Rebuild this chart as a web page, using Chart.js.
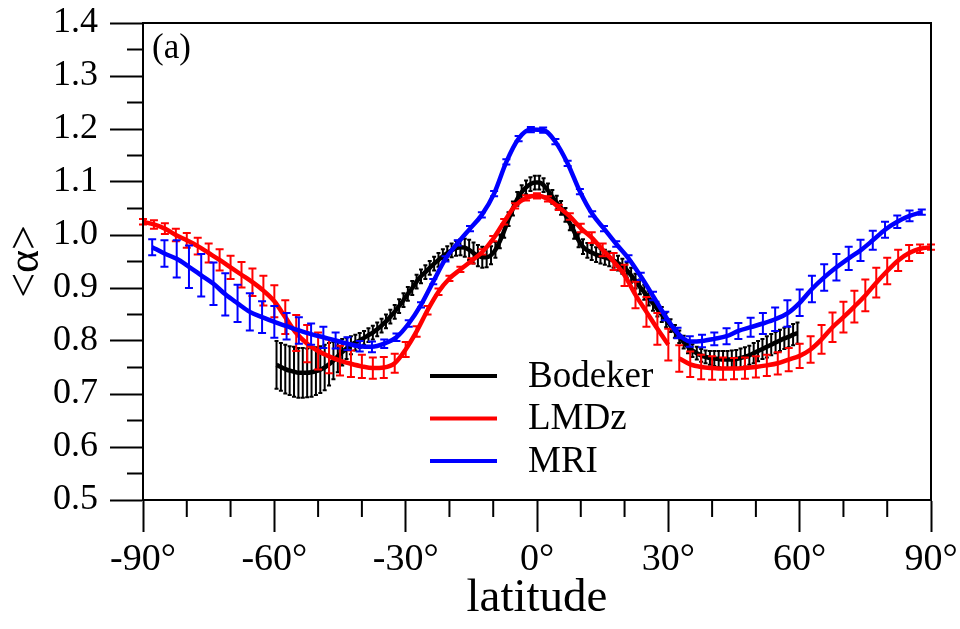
<!DOCTYPE html>
<html>
<head>
<meta charset="utf-8">
<script src="https://cdn.jsdelivr.net/npm/chart.js@4.4.0/dist/chart.umd.min.js"></script>
<style>
  html, body { margin: 0; padding: 0; background: #fff; }
  canvas { display: block; }
</style>
</head>
<body>
<canvas id="chart" width="960" height="629"></canvas>
<script>
// zonal mean <alpha> vs latitude, panel (a)
const SERIF = "'Liberation Serif', 'DejaVu Serif', serif";

const xMajorTicks = [-90, -60, -30, 0, 30, 60, 90];
const xMinorTicks = [-80, -70, -50, -40, -20, -10, 10, 20, 40, 50, 70, 80];
const yMinorTicks = [0.55, 0.65, 0.75, 0.85, 0.95, 1.05, 1.15, 1.25, 1.35];

// Bodeker (1 deg, -60..60)
const bodekerLat = [
  -59.5, -58.5, -57.5, -56.5, -55.5, -54.5, -53.5, -52.5, -51.5, -50.5, -49.5, -48.5, -47.5, -46.5, -45.5, -44.5, -43.5, -42.5, -41.5, -40.5,
  -39.5, -38.5, -37.5, -36.5, -35.5, -34.5, -33.5, -32.5, -31.5, -30.5, -29.5, -28.5, -27.5, -26.5, -25.5, -24.5, -23.5, -22.5, -21.5, -20.5,
  -19.5, -18.5, -17.5, -16.5, -15.5, -14.5, -13.5, -12.5, -11.5, -10.5, -9.5, -8.5, -7.5, -6.5, -5.5, -4.5, -3.5, -2.5, -1.5, -0.5,
  0.5, 1.5, 2.5, 3.5, 4.5, 5.5, 6.5, 7.5, 8.5, 9.5, 10.5, 11.5, 12.5, 13.5, 14.5, 15.5, 16.5, 17.5, 18.5, 19.5,
  20.5, 21.5, 22.5, 23.5, 24.5, 25.5, 26.5, 27.5, 28.5, 29.5, 30.5, 31.5, 32.5, 33.5, 34.5, 35.5, 36.5, 37.5, 38.5, 39.5,
  40.5, 41.5, 42.5, 43.5, 44.5, 45.5, 46.5, 47.5, 48.5, 49.5, 50.5, 51.5, 52.5, 53.5, 54.5, 55.5, 56.5, 57.5, 58.5, 59.5
];
const bodekerVal = [
  0.755, 0.751, 0.747, 0.744, 0.742, 0.740, 0.740, 0.740, 0.741, 0.743, 0.746, 0.750, 0.756, 0.763, 0.771, 0.779, 0.786, 0.792, 0.797, 0.801,
  0.806, 0.811, 0.816, 0.822, 0.829, 0.837, 0.846, 0.855, 0.866, 0.877, 0.889, 0.900, 0.912, 0.922, 0.930, 0.938, 0.946, 0.953, 0.960, 0.966,
  0.971, 0.975, 0.977, 0.976, 0.972, 0.966, 0.961, 0.958, 0.958, 0.962, 0.972, 0.988, 1.008, 1.030, 1.050, 1.068, 1.081, 1.090, 1.096, 1.099,
  1.099, 1.094, 1.084, 1.072, 1.061, 1.051, 1.038, 1.022, 1.006, 0.990, 0.978, 0.971, 0.967, 0.963, 0.960, 0.958, 0.955, 0.952, 0.947, 0.941,
  0.934, 0.924, 0.913, 0.902, 0.892, 0.881, 0.871, 0.860, 0.850, 0.840, 0.829, 0.818, 0.808, 0.798, 0.789, 0.782, 0.777, 0.773, 0.770, 0.768,
  0.767, 0.766, 0.765, 0.765, 0.765, 0.766, 0.768, 0.770, 0.773, 0.777, 0.781, 0.785, 0.789, 0.793, 0.797, 0.801, 0.805, 0.808, 0.812, 0.815
];
const bodekerErr = [
  0.045, 0.045, 0.046, 0.046, 0.047, 0.047, 0.047, 0.046, 0.046, 0.045, 0.044, 0.043, 0.040, 0.035, 0.030, 0.025, 0.020, 0.017, 0.015, 0.014,
  0.013, 0.013, 0.013, 0.013, 0.013, 0.013, 0.013, 0.013, 0.013, 0.013, 0.013, 0.013, 0.013, 0.013, 0.013, 0.013, 0.013, 0.013, 0.013, 0.013,
  0.013, 0.014, 0.015, 0.017, 0.019, 0.020, 0.020, 0.020, 0.019, 0.017, 0.015, 0.013, 0.013, 0.013, 0.013, 0.013, 0.013, 0.013, 0.013, 0.013,
  0.013, 0.013, 0.013, 0.013, 0.013, 0.013, 0.013, 0.013, 0.013, 0.013, 0.014, 0.014, 0.014, 0.014, 0.014, 0.014, 0.014, 0.014, 0.014, 0.014,
  0.014, 0.014, 0.014, 0.014, 0.014, 0.014, 0.014, 0.014, 0.014, 0.014, 0.012, 0.012, 0.012, 0.012, 0.012, 0.012, 0.012, 0.012, 0.012, 0.013,
  0.014, 0.015, 0.016, 0.016, 0.017, 0.017, 0.018, 0.018, 0.018, 0.019, 0.019, 0.019, 0.020, 0.020, 0.020, 0.020, 0.020, 0.020, 0.020, 0.020
];

// LMDz (2.5 deg), null marks the break near 31N
const lmdzLat = [
  -90, -87.5, -85, -82.5, -80, -77.5, -75, -72.5, -70, -67.5, -65, -62.5, -60, -57.5, -55, -52.5, -50, -47.5, -45, -42.5,
  -40, -37.5, -35, -32.5, -30, -27.5, -25, -22.5, -20, -17.5, -15, -12.5, -10, -7.5, -5, -2.5, 0, 2.5, 5, 7.5,
  10, 12.5, 15, 17.5, 20, 22.5, 25, 27.5, 30, 31.25, 32.5, 35, 37.5, 40, 42.5, 45, 47.5, 50, 52.5, 55,
  57.5, 60, 62.5, 65, 67.5, 70, 72.5, 75, 77.5, 80, 82.5, 85, 87.5, 90
];
const lmdzVal = [
  1.025, 1.020, 1.012, 1.000, 0.990, 0.979, 0.966, 0.953, 0.939, 0.925, 0.911, 0.895, 0.875, 0.845, 0.815, 0.795, 0.781, 0.771, 0.763, 0.757,
  0.752, 0.749, 0.750, 0.758, 0.784, 0.818, 0.858, 0.893, 0.918, 0.935, 0.951, 0.968, 0.993, 1.025, 1.055, 1.070, 1.074, 1.068, 1.052, 1.035,
  1.013, 0.995, 0.972, 0.950, 0.924, 0.887, 0.855, 0.823, 0.793, null, 0.767, 0.756, 0.751, 0.749, 0.748, 0.748, 0.749, 0.751, 0.754, 0.758,
  0.765, 0.772, 0.784, 0.803, 0.826, 0.845, 0.865, 0.886, 0.910, 0.932, 0.952, 0.966, 0.974, 0.977
];
const lmdzErr = [
  0.005, 0.008, 0.010, 0.012, 0.014, 0.016, 0.018, 0.020, 0.022, 0.024, 0.026, 0.028, 0.030, 0.032, 0.034, 0.035, 0.035, 0.032, 0.028, 0.025,
  0.022, 0.020, 0.020, 0.018, 0.014, 0.010, 0.008, 0.006, 0.005, 0.005, 0.005, 0.005, 0.005, 0.005, 0.005, 0.005, 0.005, 0.005, 0.005, 0.006,
  0.008, 0.010, 0.012, 0.016, 0.020, 0.025, 0.028, 0.030, 0.030, null, 0.025, 0.024, 0.023, 0.022, 0.021, 0.020, 0.020, 0.020, 0.020, 0.021,
  0.022, 0.023, 0.025, 0.027, 0.028, 0.029, 0.030, 0.030, 0.028, 0.025, 0.020, 0.015, 0.008, 0.005
];

// MRI (T42 gaussian latitudes)
const mriLat = [
  -87.9, -85.1, -82.3, -79.5, -76.7, -73.9, -71.2, -68.4, -65.6, -62.8, -60.0, -57.2, -54.4, -51.6, -48.8, -46.0,
  -43.3, -40.5, -37.7, -34.9, -32.1, -29.3, -26.5, -23.7, -20.9, -18.1, -15.3, -12.6, -9.8, -7.0, -4.2, -1.4,
  1.4, 4.2, 7.0, 9.8, 12.6, 15.3, 18.1, 20.9, 23.7, 26.5, 29.3, 32.1, 34.9, 37.7, 40.5, 43.3,
  46.0, 48.8, 51.6, 54.4, 57.2, 60.0, 62.8, 65.6, 68.4, 71.2, 73.9, 76.7, 79.5, 82.3, 85.1, 87.9
];
const mriVal = [
  0.977, 0.965, 0.955, 0.940, 0.924, 0.908, 0.888, 0.871, 0.855, 0.845, 0.836, 0.828, 0.820, 0.813, 0.807, 0.801,
  0.795, 0.790, 0.789, 0.795, 0.807, 0.833, 0.868, 0.912, 0.955, 0.985, 1.012, 1.038, 1.078, 1.138, 1.182, 1.199,
  1.198, 1.176, 1.135, 1.082, 1.040, 1.012, 0.983, 0.956, 0.922, 0.885, 0.847, 0.815, 0.799, 0.800, 0.804, 0.809,
  0.819, 0.826, 0.833, 0.841, 0.852, 0.872, 0.898, 0.920, 0.939, 0.956, 0.971, 0.990, 1.010, 1.025, 1.036, 1.043
];
const mriErr = [
  0.015, 0.025, 0.035, 0.040, 0.040, 0.040, 0.040, 0.035, 0.035, 0.030, 0.030, 0.025, 0.025, 0.020, 0.020, 0.015,
  0.012, 0.010, 0.010, 0.008, 0.007, 0.006, 0.005, 0.005, 0.005, 0.005, 0.005, 0.005, 0.005, 0.005, 0.005, 0.005,
  0.005, 0.005, 0.005, 0.005, 0.005, 0.005, 0.005, 0.006, 0.007, 0.008, 0.008, 0.010, 0.010, 0.012, 0.012, 0.015,
  0.015, 0.018, 0.020, 0.022, 0.025, 0.025, 0.025, 0.025, 0.025, 0.022, 0.020, 0.018, 0.015, 0.012, 0.010, 0.005
];

const pts = (lat, val) => lat.map((x, i) => ({ x: x, y: val[i] }));

// error bars drawn right under each dataset's line
const errorBars = {
  id: 'errorBars',
  beforeDatasetDraw(chart, args) {
    const ds = chart.data.datasets[args.index];
    if (!ds.errors) return;
    const ys = chart.scales.y;
    const ctx = chart.ctx;
    const hw = ds.capWidth / 2;
    ctx.save();
    ctx.strokeStyle = ds.borderColor;
    ctx.lineWidth = 2;
    ctx.beginPath();
    args.meta.data.forEach((pt, i) => {
      const v = ds.data[i].y, e = ds.errors[i];
      if (v == null || e == null) return;
      const top = ys.getPixelForValue(v + e), bot = ys.getPixelForValue(v - e);
      ctx.moveTo(pt.x, top); ctx.lineTo(pt.x, bot);
      ctx.moveTo(pt.x - hw, top); ctx.lineTo(pt.x + hw, top);
      ctx.moveTo(pt.x - hw, bot); ctx.lineTo(pt.x + hw, bot);
    });
    ctx.stroke();
    ctx.restore();
  }
};

// frame, minor ticks, panel tag and legend
const decor = {
  id: 'decor',
  afterDraw(chart) {
    const ctx = chart.ctx, a = chart.chartArea;
    const xs = chart.scales.x, ys = chart.scales.y;
    ctx.save();
    ctx.strokeStyle = '#000';
    ctx.lineWidth = 2;
    ctx.strokeRect(a.left, a.top, a.right - a.left, a.bottom - a.top);
    ctx.beginPath();
    xMinorTicks.forEach(v => {
      const px = xs.getPixelForValue(v);
      ctx.moveTo(px, a.bottom); ctx.lineTo(px, a.bottom + 17);
    });
    yMinorTicks.forEach(v => {
      const py = ys.getPixelForValue(v);
      ctx.moveTo(a.left - 16, py); ctx.lineTo(a.left, py);
    });
    ctx.stroke();

    ctx.fillStyle = '#000';
    ctx.font = '35px ' + SERIF;
    ctx.textBaseline = 'middle';
    ctx.textAlign = 'left';
    ctx.fillText('(a)', a.left + 9, a.top + 26);

    // legend
    ctx.font = '37px ' + SERIF;
    chart.data.datasets.forEach((ds, i) => {
      const y = 376 + i * 42.5;
      ctx.strokeStyle = ds.borderColor;
      ctx.lineWidth = 4;
      ctx.beginPath();
      ctx.moveTo(430, y); ctx.lineTo(497, y);
      ctx.stroke();
      ctx.fillText(ds.label, 528, y + 1);
    });
    ctx.restore();
  }
};

new Chart(document.getElementById('chart'), {
  type: 'line',
  data: {
    datasets: [
      { label: 'Bodeker', data: pts(bodekerLat, bodekerVal), errors: bodekerErr, capWidth: 4,
        borderColor: '#000000', order: 3 },
      { label: 'LMDz', data: pts(lmdzLat, lmdzVal), errors: lmdzErr, capWidth: 8,
        borderColor: '#ff0000', order: 2 },
      { label: 'MRI', data: pts(mriLat, mriVal), errors: mriErr, capWidth: 8,
        borderColor: '#0000ff', order: 1 }
    ]
  },
  options: {
    responsive: false,
    animation: false,
    devicePixelRatio: 1,
    layout: { padding: { top: 23, right: 29, left: 0, bottom: 0 } },
    elements: {
      line: { borderWidth: 4.5, cubicInterpolationMode: 'monotone', fill: false },
      point: { radius: 0, hoverRadius: 0 }
    },
    spanGaps: false,
    plugins: { legend: { display: false }, tooltip: { enabled: false } },
    scales: {
      x: {
        type: 'linear', min: -90, max: 90,
        border: { display: true, color: '#000', width: 2 },
        grid: { drawOnChartArea: false, drawTicks: true, tickLength: 32, tickWidth: 2, tickColor: '#000' },
        afterBuildTicks: s => { s.ticks = xMajorTicks.map(v => ({ value: v })); },
        ticks: { color: '#000', font: { family: SERIF, size: 38 }, padding: 5, maxRotation: 0, autoSkip: false,
                 callback: v => v + '°' },
        title: { display: true, text: 'latitude', color: '#000', font: { family: SERIF, size: 47 }, padding: { top: 0, bottom: 2 } },
        afterFit: s => { s.height = 129; s.paddingLeft = 0; s.paddingRight = 0; }
      },
      y: {
        min: 0.5, max: 1.4,
        border: { display: true, color: '#000', width: 2 },
        grid: { drawOnChartArea: false, drawTicks: true, tickLength: 33, tickWidth: 2, tickColor: '#000' },
        ticks: { stepSize: 0.1, color: '#000', font: { family: SERIF, size: 36 }, padding: 12,
                 callback: v => v.toFixed(1) },
        title: { display: true, text: '<α>', color: '#000', font: { family: SERIF, size: 44 }, padding: { top: 0, bottom: 0 } },
        afterFit: s => { s.width = 143; s.paddingTop = 0; s.paddingBottom = 0; }
      }
    }
  },
  plugins: [errorBars, decor]
});
</script>
</body>
</html>
